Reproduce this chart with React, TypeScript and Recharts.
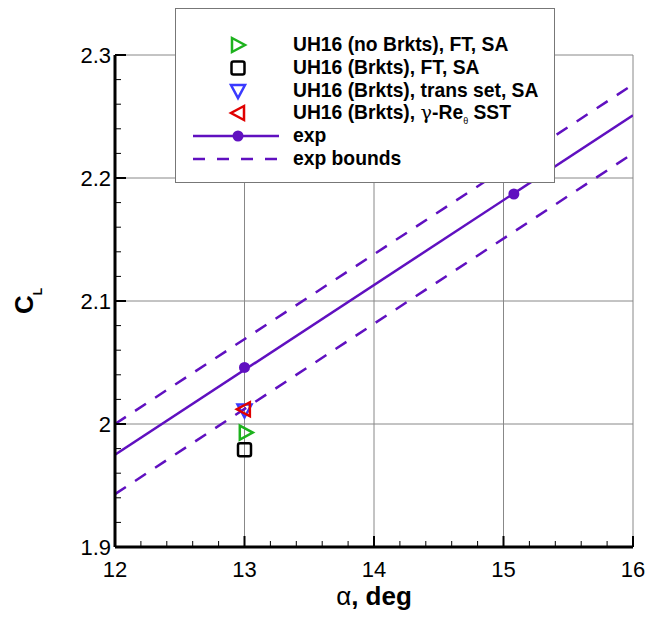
import { ComposedChart, Line, Scatter, XAxis, YAxis, CartesianGrid, Legend } from 'recharts';

// axis ranges / tick labels
const alphaMajor = [12, 13, 14, 15, 16];
const clMajor = [1.9, 2, 2.1, 2.2, 2.3];
const alphaTicks = Array.from({ length: 21 }, (_, i) => Math.round((12 + i * 0.2) * 100) / 100);
const clTicks = Array.from({ length: 21 }, (_, i) => Math.round((1.9 + i * 0.02) * 1000) / 1000);

// CFD results at alpha = 13 deg
const noBrktsFtSa = [{ alpha: 13.01, cl: 1.993 }];
const brktsFtSa = [{ alpha: 13.0, cl: 1.979 }];
const brktsTransSa = [{ alpha: 13.0, cl: 2.011 }];
const brktsGammaSst = [{ alpha: 12.995, cl: 2.012 }];

// experiment
const expPoints = [{ alpha: 13.0, cl: 2.046 }, { alpha: 15.08, cl: 2.187 }];
const expFit = [{ alpha: 12, cl: 1.975 }, { alpha: 16, cl: 2.251 }];
const expUpper = [{ alpha: 12, cl: 2.0 }, { alpha: 16, cl: 2.276 }];
const expLower = [{ alpha: 12, cl: 1.943 }, { alpha: 16, cl: 2.22 }];

const PURPLE = '#6010c0';
const GREEN = '#1db21d';
const BLUE = '#3a3aff';
const RED = '#e00000';
const FONT = '"Liberation Sans", Arial, Helvetica, sans-serif';

type Kind = 'right' | 'square' | 'down' | 'left' | 'dot';

const Marker = ({ kind, cx, cy, color }: { kind: Kind; cx: number; cy: number; color: string }) => {
  const sw = 2.5;
  if (kind === 'square') {
    return <rect x={cx - 6.5} y={cy - 6.5} width={13} height={13} rx={2} fill="none" stroke={color} strokeWidth={sw} />;
  }
  if (kind === 'dot') {
    return <circle cx={cx} cy={cy} r={5.5} fill={color} stroke="none" />;
  }
  let pts = '';
  if (kind === 'right') pts = `${cx - 6},${cy - 7} ${cx + 7},${cy} ${cx - 6},${cy + 7}`;
  if (kind === 'left') pts = `${cx + 6},${cy - 7} ${cx - 7},${cy} ${cx + 6},${cy + 7}`;
  if (kind === 'down') pts = `${cx - 7},${cy - 6} ${cx + 7},${cy - 6} ${cx},${cy + 7}`;
  return <polygon points={pts} fill="none" stroke={color} strokeWidth={sw} strokeLinejoin="miter" />;
};

const isMajorX = (v: number) => Math.abs(v - Math.round(v)) < 1e-6;
const isMajorY = (v: number) => Math.abs(v * 10 - Math.round(v * 10)) < 1e-6;

const XTick = (props: any) => {
  const { x, y, payload } = props;
  const major = isMajorX(payload.value);
  return (
    <g>
      <line x1={x} x2={x} y1={y} y2={y - (major ? 11 : 6)} stroke="#000" strokeWidth={major ? 2 : 1} />
      {major && (
        <text x={x} y={y + 30} textAnchor="middle" fontSize={22} fontFamily={FONT} fill="#000">
          {payload.value}
        </text>
      )}
    </g>
  );
};

const YTick = (props: any) => {
  const { x, y, payload } = props;
  const major = isMajorY(payload.value);
  return (
    <g>
      <line x1={x} x2={x + (major ? 11 : 6)} y1={y} y2={y} stroke="#000" strokeWidth={major ? 2 : 1} />
      {major && (
        <text x={x - 4} y={y + 8} textAnchor="end" fontSize={22} fontFamily={FONT} fill="#000">
          {Number(payload.value.toFixed(1)).toString()}
        </text>
      )}
    </g>
  );
};

const XLabel = (props: any) => {
  const vb = props.viewBox;
  return (
    <text x={vb.x + vb.width / 2} y={vb.y + 58} textAnchor="middle" fontSize={26} fontFamily={FONT} fill="#000">
      <tspan>α</tspan>
      <tspan fontWeight="bold">, deg</tspan>
    </text>
  );
};

const YLabel = (props: any) => {
  const vb = props.viewBox;
  const cx = vb.x + 33;
  const cy = vb.y + vb.height / 2;
  return (
    <text x={cx} y={cy} textAnchor="middle" fontSize={26} fontWeight="bold" fontFamily={FONT} fill="#000" transform={`rotate(-90 ${cx} ${cy})`}>
      <tspan>C</tspan>
      <tspan fontSize={12} dy={9}>L</tspan>
    </text>
  );
};

const legendRows: { kind: Kind | 'line' | 'dash'; color: string; label: React.ReactNode }[] = [
  { kind: 'right', color: GREEN, label: 'UH16 (no Brkts), FT, SA' },
  { kind: 'square', color: '#000', label: 'UH16 (Brkts), FT, SA' },
  { kind: 'down', color: BLUE, label: 'UH16 (Brkts), trans set, SA' },
  {
    kind: 'left',
    color: RED,
    label: (
      <>
        UH16 (Brkts), <span style={{ fontWeight: 'normal', fontFamily: '"DejaVu Serif", serif' }}>γ</span>-Re
        <sub style={{ fontSize: 9, fontWeight: 'normal' }}>θ</sub> SST
      </>
    ),
  },
  { kind: 'line', color: PURPLE, label: 'exp' },
  { kind: 'dash', color: PURPLE, label: 'exp bounds' },
];

const LegendBox = () => (
  <div
    style={{
      width: 378,
      height: 173,
      border: '1px solid #777',
      background: '#fff',
      position: 'relative',
      fontFamily: FONT,
      fontWeight: 'bold',
      fontSize: 19.3,
      color: '#000',
    }}
  >
    {legendRows.map((r, i) => (
      <div key={i} style={{ position: 'absolute', left: 0, top: 25 + i * 22.8, height: 22, display: 'flex', alignItems: 'center', whiteSpace: 'nowrap' }}>
        <svg width={117} height={22} style={{ display: 'block' }}>
          {r.kind === 'line' && (
            <>
              <line x1={17} x2={103} y1={11} y2={11} stroke={r.color} strokeWidth={2.5} />
              <Marker kind="dot" cx={62} cy={11} color={r.color} />
            </>
          )}
          {r.kind === 'dash' && <line x1={17} x2={103} y1={11} y2={11} stroke={r.color} strokeWidth={2.5} strokeDasharray="12 12" />}
          {r.kind !== 'line' && r.kind !== 'dash' && <Marker kind={r.kind as Kind} cx={62} cy={11} color={r.color} />}
        </svg>
        <span>{r.label}</span>
      </div>
    ))}
  </div>
);

export default function App() {
  return (
    <div style={{ position: 'absolute', left: 0, top: 0 }}>
      <ComposedChart width={651} height={618} margin={{ top: 55, right: 18, bottom: 0, left: 0 }}>
        <CartesianGrid stroke="#888" strokeWidth={1} verticalValues={alphaMajor} horizontalValues={clMajor} />
        <XAxis
          type="number"
          dataKey="alpha"
          domain={[12, 16]}
          ticks={alphaTicks}
          interval={0}
          allowDataOverflow
          height={71}
          axisLine={{ stroke: '#000', strokeWidth: 3 }}
          tickLine={false}
          tickSize={0}
          tickMargin={0}
          tick={XTick}
          label={<XLabel />}
        />
        <YAxis
          type="number"
          dataKey="cl"
          domain={[1.9, 2.3]}
          ticks={clTicks}
          interval={0}
          allowDataOverflow
          width={115}
          axisLine={{ stroke: '#000', strokeWidth: 3 }}
          tickLine={false}
          tickSize={0}
          tickMargin={0}
          tick={YTick}
          label={<YLabel />}
        />
        <Line data={expUpper} dataKey="cl" stroke={PURPLE} strokeWidth={2.5} strokeDasharray="13 11" dot={false} activeDot={false} isAnimationActive={false} />
        <Line data={expLower} dataKey="cl" stroke={PURPLE} strokeWidth={2.5} strokeDasharray="13 11" dot={false} activeDot={false} isAnimationActive={false} />
        <Line data={expFit} dataKey="cl" stroke={PURPLE} strokeWidth={2.5} dot={false} activeDot={false} isAnimationActive={false} />
        <Scatter data={expPoints} dataKey="cl" isAnimationActive={false} shape={(p: any) => <Marker kind="dot" cx={p.cx} cy={p.cy} color={PURPLE} />} />
        <Scatter data={brktsFtSa} dataKey="cl" isAnimationActive={false} shape={(p: any) => <Marker kind="square" cx={p.cx} cy={p.cy} color="#000" />} />
        <Scatter data={noBrktsFtSa} dataKey="cl" isAnimationActive={false} shape={(p: any) => <Marker kind="right" cx={p.cx} cy={p.cy} color={GREEN} />} />
        <Scatter data={brktsTransSa} dataKey="cl" isAnimationActive={false} shape={(p: any) => <Marker kind="down" cx={p.cx} cy={p.cy} color={BLUE} />} />
        <Scatter data={brktsGammaSst} dataKey="cl" isAnimationActive={false} shape={(p: any) => <Marker kind="left" cx={p.cx} cy={p.cy} color={RED} />} />
        <Legend
          layout="horizontal"
          verticalAlign="middle"
          align="center"
          content={() => <LegendBox />}
          wrapperStyle={{ left: 175, top: 8, width: 380, height: 175, right: 'auto', bottom: 'auto' }}
        />
      </ComposedChart>
    </div>
  );
}
